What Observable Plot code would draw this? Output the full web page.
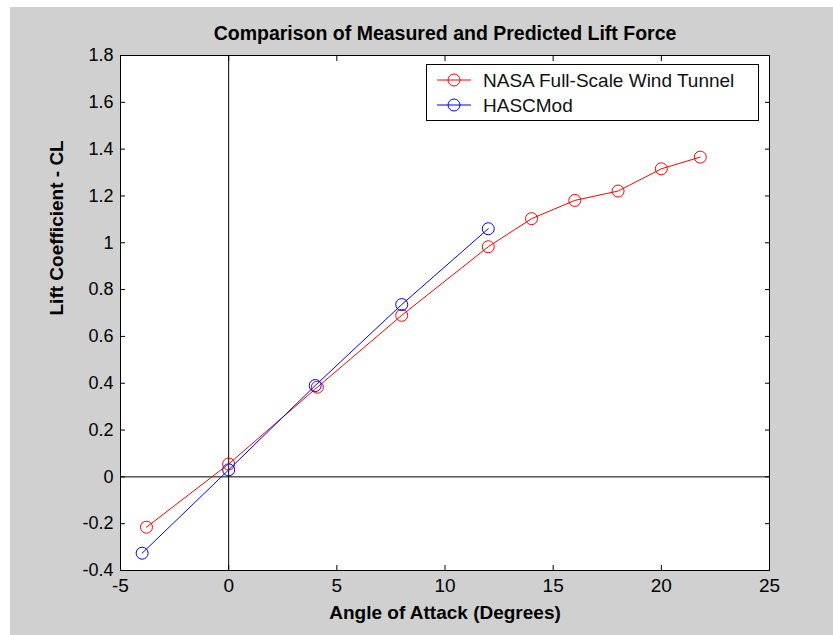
<!DOCTYPE html>
<html><head><meta charset="utf-8">
<script src="https://cdn.jsdelivr.net/npm/d3@7"></script>
<script src="https://cdn.jsdelivr.net/npm/@observablehq/plot@0.6"></script>
<style>
body{margin:0;background:#fff;}
#wrap{position:absolute;left:10px;top:7px;width:823px;height:628px;background:#d0d0d0;overflow:hidden;}
#chart{position:absolute;left:0;top:0;}
#legend{position:absolute;left:416px;top:57px;}
</style></head><body>
<div id="wrap"><div id="chart"></div><div id="legend"></div></div>
<script>
const nasaAlpha = [-3.8, 0, 4.1, 8, 12, 14, 16, 18, 20, 21.8];
const nasaCL    = [-0.215, 0.055, 0.383, 0.69, 0.983, 1.103, 1.181, 1.221, 1.316, 1.366];
const hascAlpha = [-4, 0, 4, 8, 12];
const hascCL    = [-0.326, 0.03, 0.39, 0.736, 1.06];
const xTicks = [-5, 0, 5, 10, 15, 20, 25];
const yTicks = [-0.4, -0.2, 0, 0.2, 0.4, 0.6, 0.8, 1, 1.2, 1.4, 1.6, 1.8];
const seriesNames  = ["NASA Full-Scale Wind Tunnel", "HASCMod"];
const seriesColors = ["#ff0000", "#0000ff"];
const titleText = "Comparison of Measured and Predicted Lift Force";
const xLabel = "Angle of Attack (Degrees)";
const yLabel = "Lift Coefficient - CL";

const nasa = nasaAlpha.map((a, i) => ({alpha: a, cl: nasaCL[i]}));
const hasc = hascAlpha.map((a, i) => ({alpha: a, cl: hascCL[i]}));
const fmt = d => String(Math.round(d * 10) / 10);
const font = "'Liberation Sans', Arial, Helvetica, sans-serif";

const chart = Plot.plot({
  width: 823, height: 628,
  marginLeft: 110, marginRight: 64, marginTop: 48, marginBottom: 65,
  style: {background: "transparent", color: "black", fontFamily: font},
  x: {domain: [-5, 25], label: null, inset: 0},
  y: {domain: [-0.4, 1.8], label: null, inset: 0},
  marks: [
    Plot.frame({fill: "white", stroke: null}),
    Plot.ruleX([0], {stroke: "black", strokeWidth: 1}),
    Plot.ruleY([0], {stroke: "black", strokeWidth: 1}),
    Plot.line(nasa, {x: "alpha", y: "cl", stroke: seriesColors[0], strokeWidth: 1}),
    Plot.dot(nasa, {x: "alpha", y: "cl", stroke: seriesColors[0], r: 6, strokeWidth: 1}),
    Plot.line(hasc, {x: "alpha", y: "cl", stroke: seriesColors[1], strokeWidth: 1}),
    Plot.dot(hasc, {x: "alpha", y: "cl", stroke: seriesColors[1], r: 6, strokeWidth: 1}),
    Plot.axisX({anchor: "bottom", ticks: xTicks, tickSize: -5, tickPadding: 13, tickFormat: fmt, fontSize: 19, label: null}),
    Plot.axisX({anchor: "top", ticks: xTicks, tickSize: -5, tickFormat: () => "", label: null}),
    Plot.axisY({anchor: "left", ticks: yTicks, tickSize: -5, tickPadding: 12, tickFormat: fmt, fontSize: 18, label: null}),
    Plot.axisY({anchor: "right", ticks: yTicks, tickSize: -5, tickFormat: () => "", label: null}),
    Plot.frame({stroke: "black", strokeWidth: 1}),
    Plot.text([titleText], {text: d => d, frameAnchor: "top", lineAnchor: "middle", dy: -22, fontSize: 19.5, fontWeight: "bold", fill: "black"}),
    Plot.text([xLabel], {text: d => d, frameAnchor: "bottom", lineAnchor: "middle", dy: 42.5, fontSize: 19, fontWeight: "bold", fill: "black"}),
    Plot.text([yLabel], {text: d => d, frameAnchor: "left", lineAnchor: "middle", dx: -64, dy: 2.5, rotate: -90, fontSize: 19, fontWeight: "bold", fill: "black"})
  ]
});
document.getElementById("chart").appendChild(chart);

// Legend box (inside axes, top right)
const lw = 333, lh = 57;
const leg = d3.select("#legend").append("svg").attr("width", lw).attr("height", lh).style("display", "block");
leg.append("rect").attr("x", 0.5).attr("y", 0.5).attr("width", lw - 1).attr("height", lh - 1)
  .attr("fill", "white").attr("stroke", "black");
seriesNames.forEach((name, i) => {
  const cy = 16 + i * 25;
  leg.append("line").attr("x1", 11).attr("x2", 45).attr("y1", cy).attr("y2", cy)
    .attr("stroke", seriesColors[i]).attr("stroke-width", 1);
  leg.append("circle").attr("cx", 28).attr("cy", cy).attr("r", 6)
    .attr("fill", "none").attr("stroke", seriesColors[i]);
  leg.append("text").attr("x", 57).attr("y", cy).attr("dy", "0.35em")
    .attr("font-family", font).attr("font-size", 19).attr("fill", "#111").text(name);
});
</script>
</body></html>
